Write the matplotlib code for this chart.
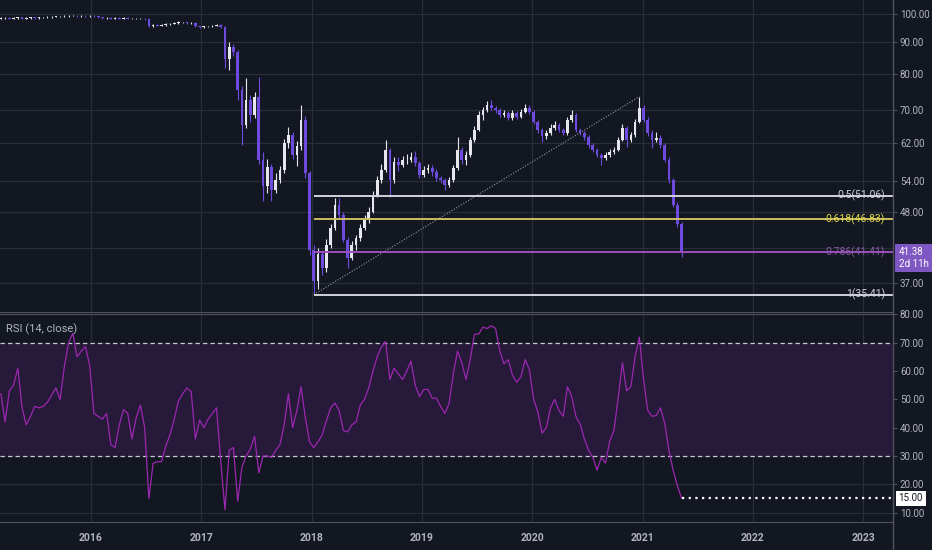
import numpy as np
import pandas as pd
import matplotlib
matplotlib.use('Agg')
import matplotlib.pyplot as plt
import matplotlib.dates as mdates
import matplotlib.ticker as mticker
import matplotlib.transforms as mtrans
from matplotlib.lines import Line2D

BG = '#131722'
GRID = '#2a2e39'
SPINE = '#50535e'
TEXT = '#b2b5be'
UP = '#e6e6ec'
DOWN = '#6e4bdc'
RSI_COLOR = '#9c27b0'
BAND = '#26193a'
FONT = ['Roboto', 'DejaVu Sans']

plt.rcParams['font.family'] = FONT

# biweekly candles
start = '2015-03-09'
first_open = 98.3
closes = [
    98.4, 98.5, 98.3, 98.5, 98.7, 98.3, 98.5, 98.7, 98.5, 98.7, 98.7, 98.9, 98.9,
    99.1, 99.1, 99.3, 99.3, 99.4, 99.3, 99.4, 99.3, 99.3, 99.1, 98.7, 98.5, 98.5,
    98.3, 98.5, 98.3, 98.5, 98.3, 98.3, 98.3, 98.3, 98.2, 95.7, 96.0, 95.8, 96.0,
    96.4, 96.4, 96.7, 96.9, 96.9, 96.7, 96.7, 95.5, 95.3, 95.5, 95.5, 95.8, 96.0,
    95.3, 84.5, 88.5, 86.9, 75.5, 66.3, 72.8, 68.8, 73.5, 58.3, 52.9, 56.8, 52.2,
    54.1, 56.2, 62.1, 63.9, 59.4, 61.3, 67.6, 55.5, 41.8, 37.2, 41.1, 39.0, 42.6,
    45.3, 49.4, 47.6, 43.4, 40.6, 42.6, 43.6, 45.3, 46.7, 48.1, 51.2, 54.1, 56.2,
    60.5, 54.1, 57.9, 57.2, 58.3, 58.3, 58.9, 57.6, 55.2, 56.2, 56.6, 55.8, 54.5,
    54.1, 53.2, 54.1, 56.6, 60.5, 58.3, 59.4, 62.8, 65.1, 68.8, 70.1, 71.4, 70.6,
    70.1, 68.8, 69.3, 68.0, 69.3, 68.4, 69.7, 70.6, 69.7, 67.1, 65.1, 63.7, 64.3,
    65.6, 66.3, 65.1, 64.3, 67.6, 68.8, 65.1, 64.3, 63.4, 61.6, 60.5, 59.4, 58.7,
    59.4, 60.0, 60.5, 62.8, 65.6, 62.8, 63.9, 67.1, 70.6, 67.6, 64.3, 62.8, 63.2,
    61.6, 58.3, 54.1, 49.4, 45.9, 41.38]
highs = [
    98.7, 98.8, 98.7, 98.8, 99.0, 98.9, 98.8, 99.0, 98.9, 99.0, 99.0, 99.2, 99.2,
    99.4, 99.4, 99.6, 99.6, 99.8, 99.7, 99.8, 99.7, 99.6, 99.5, 99.3, 98.9, 98.8,
    98.7, 98.8, 98.7, 98.8, 98.7, 98.6, 98.6, 98.6, 98.6, 98.4, 96.3, 96.2, 96.3,
    96.7, 96.7, 97.0, 97.3, 97.2, 97.1, 97.0, 96.9, 95.7, 95.8, 95.8, 96.1, 96.4,
    96.3, 95.5, 90.0, 89.5, 87.5, 76.5, 78.9, 74.0, 74.9, 79.2, 60.0, 58.5, 57.5,
    55.5, 57.0, 63.0, 65.8, 64.5, 62.5, 71.4, 68.5, 56.0, 42.5, 42.0, 41.8, 43.5,
    46.0, 50.6, 50.6, 48.0, 43.8, 43.2, 44.2, 46.0, 47.5, 49.0, 52.0, 55.0, 57.5,
    62.8, 61.0, 58.8, 59.0, 59.2, 59.5, 60.0, 60.3, 58.0, 57.0, 57.5, 57.2, 56.3,
    55.0, 54.6, 54.8, 57.2, 63.4, 61.2, 60.2, 63.5, 66.0, 69.8, 71.0, 72.5, 72.8,
    71.2, 70.6, 70.0, 69.8, 70.0, 69.9, 70.4, 71.6, 71.4, 70.2, 67.6, 65.6, 65.0,
    66.5, 67.2, 66.8, 65.6, 68.3, 70.1, 69.4, 65.6, 64.8, 63.8, 62.0, 60.9, 59.8,
    60.0, 60.6, 61.2, 63.4, 66.6, 66.0, 64.6, 67.8, 73.64, 71.4, 68.2, 65.0, 64.6,
    63.8, 62.0, 58.8, 54.6, 49.8, 46.3]
lows = [
    98.1, 98.2, 98.0, 98.1, 98.3, 98.0, 98.1, 98.3, 98.2, 98.3, 98.4, 98.5, 98.6,
    98.7, 98.8, 98.9, 99.0, 99.1, 99.0, 99.0, 99.0, 99.0, 98.8, 98.4, 98.2, 98.2,
    98.0, 98.1, 98.0, 98.1, 98.0, 98.0, 98.0, 98.0, 97.9, 95.3, 95.4, 95.5, 95.5,
    95.8, 96.1, 96.2, 96.5, 96.6, 96.4, 96.4, 95.2, 95.0, 95.1, 95.2, 95.3, 95.6,
    94.8, 82.0, 81.3, 85.5, 72.8, 61.6, 65.5, 67.0, 68.0, 57.5, 50.0, 51.5, 50.0,
    51.5, 53.5, 55.5, 61.0, 58.5, 57.0, 60.5, 54.5, 41.0, 35.41, 36.1, 38.0, 38.5,
    42.0, 45.0, 47.0, 43.0, 39.0, 40.2, 41.8, 43.2, 45.0, 46.2, 47.8, 50.8, 53.5,
    55.8, 50.8, 53.5, 56.0, 56.8, 57.3, 57.8, 57.0, 54.6, 54.8, 55.6, 55.0, 54.0,
    53.5, 52.2, 52.8, 53.8, 56.2, 57.5, 57.2, 59.0, 62.3, 64.8, 67.5, 69.6, 70.0,
    69.4, 68.2, 68.3, 67.5, 67.6, 67.8, 68.0, 69.3, 69.0, 66.5, 64.3, 62.3, 63.0,
    63.8, 65.0, 64.5, 63.8, 63.8, 67.0, 64.6, 63.8, 62.8, 61.0, 60.0, 58.8, 57.2,
    58.2, 59.0, 59.6, 60.2, 62.4, 61.2, 62.2, 63.5, 66.8, 67.0, 63.6, 60.8, 62.2,
    61.0, 57.8, 53.6, 49.0, 45.4, 40.7]
rsi = [
    52, 42, 53, 55, 61, 47, 41, 44, 47.5, 47, 47.5, 49, 51.5,
    54, 50, 61.5, 70, 73.3, 65, 67, 68.6, 62, 45, 44, 43, 45,
    34, 33, 41, 46.4, 45, 36, 43.5, 48, 40, 15, 27.4, 28, 28,
    33.5, 37.5, 43, 49.5, 52, 54, 52.7, 36, 42.7, 40, 43, 45, 47,
    28, 11, 32, 33, 14, 26, 30, 32.5, 37, 24, 30, 30, 29.5,
    32, 34, 41, 52, 40, 46, 54.5, 43.5, 35, 33, 35, 37.5, 42.5,
    47, 48.7, 46, 39, 38.5, 41, 42, 48, 50, 54, 60, 65, 68.5,
    70.4, 57, 61, 59, 57, 60, 63.5, 55, 51, 53.5, 53.5, 50.4, 50.4,
    47.5, 45, 48.5, 59, 67, 63, 57, 64, 73, 73, 75.5, 75, 76,
    75, 67, 62.5, 64, 58.5, 56, 58, 64, 60.5, 50, 45.5, 38, 40,
    47, 50, 46, 44, 54.5, 51, 44, 41.3, 36, 32, 29.5, 25, 29.5,
    27.5, 35.3, 39, 50.5, 63, 53, 54.5, 65, 72, 57, 46, 44, 44.3,
    47, 41.5, 32, 25, 19.5, 15.0]

price_ticks = [37, 48, 54, 62, 70, 80, 90, 100]
hidden_price_grid = [42]  # its label sits under the last-price tag
rsi_ticks = [10, 20, 30, 40, 50, 60, 70, 80]
x_range = ('2015-03-06', '2023-04-10')

# fibonacci retracement drawn from the swing low to the swing high
swing_low_idx = 74
swing_high_idx = 151
fib_ratios = ['0.5', '0.618', '0.786', '1']
fib_prices = [51.06, 46.83, 41.41, 35.41]
fib_colors = ['#d1d4dc', '#c9bd62', '#9c4fbe', '#d1d4dc']
fib_text_colors = ['#d1d4dc', '#e0d84a', '#8e5aa8', '#d1d4dc']
countdown = '2d 11h'


def draw_candles(ax, dates):
    opens = np.array([first_open] + closes[:-1])
    c = np.array(closes)
    up = c >= opens
    colors = np.where(up, UP, DOWN)
    ax.vlines(dates, lows, highs, colors=colors, lw=0.8, zorder=3)
    bottom = np.minimum(opens, c)
    height = np.abs(c - opens)
    ax.bar(dates, height, bottom=bottom, width=9, color=colors,
           linewidth=0, zorder=3)


def draw_fib(ax, dates, xmax):
    x0 = dates[swing_low_idx]
    x1 = dates[swing_high_idx]
    ax.plot([x0, x1], [lows[swing_low_idx], highs[swing_high_idx]],
            ls=(0, (1, 1.5)), color='#9598a1', lw=0.8, zorder=4)
    trans = mtrans.blended_transform_factory(ax.transAxes, ax.transData)
    for r, p, col, tcol in zip(fib_ratios, fib_prices, fib_colors,
                               fib_text_colors):
        ax.hlines(p, x0, xmax, colors=col, lw=1.4, zorder=4)
        ax.text(0.991, p, f'{r}({p:.2f})', transform=trans, ha='right',
                va='center', color=tcol, fontsize=7.5, zorder=5)


def style_axes(ax):
    ax.set_facecolor(BG)
    ax.set_axisbelow(True)
    ax.grid(True, color=GRID, lw=0.9)
    for side in ['left', 'top', 'bottom', 'right']:
        ax.spines[side].set_visible(False)
    ax.yaxis.tick_right()
    ax.tick_params(axis='y', colors=SPINE, labelcolor=TEXT, labelsize=7,
                   length=3, pad=2)
    ax.xaxis.set_major_locator(mdates.YearLocator())


dates = mdates.date2num(pd.date_range(start, periods=len(closes), freq='14D'))
xmin, xmax = mdates.datestr2num(x_range[0]), mdates.datestr2num(x_range[1])

fig = plt.figure(figsize=(9.32, 5.5), dpi=100, facecolor=BG)
ax = fig.add_axes((0, 238 / 550, 893 / 932, 312 / 550))
ax2 = fig.add_axes((0, 28 / 550, 893 / 932, 208.5 / 550))

# price pane
style_axes(ax)
ax.set_yscale('log')
ax.yaxis.set_major_locator(mticker.FixedLocator(price_ticks))
ax.yaxis.set_minor_locator(mticker.NullLocator())
ax.yaxis.set_major_formatter(mticker.FormatStrFormatter('%.2f'))
for p in hidden_price_grid:
    ax.axhline(p, color=GRID, lw=0.9, zorder=0)
ax.set_ylim(33.2, 105.3)
ax.set_xlim(xmin, xmax)
ax.tick_params(axis='x', labelbottom=False, length=0)
ax.spines['bottom'].set_visible(True)
ax.spines['bottom'].set_color(SPINE)

draw_candles(ax, dates)
draw_fib(ax, dates, xmax)

ax.annotate(f'{closes[-1]:.2f}\n{countdown}', xy=(1.0, closes[-1]),
            xycoords=('axes fraction', 'data'), xytext=(4, 4),
            textcoords='offset points', ha='left', va='top', color='white',
            fontsize=7, linespacing=1.25, annotation_clip=False, zorder=6,
            bbox=dict(boxstyle='square,pad=0.35', fc='#7e57c2', ec='none'))

# RSI pane
style_axes(ax2)
ax2.yaxis.set_major_locator(mticker.FixedLocator(rsi_ticks))
ax2.yaxis.set_major_formatter(mticker.FormatStrFormatter('%.2f'))
ax2.set_ylim(6.7, 80.3)
ax2.set_xlim(xmin, xmax)
ax2.xaxis.set_major_formatter(mdates.DateFormatter('%Y'))
ax2.tick_params(axis='x', colors=TEXT, labelsize=7.5, length=0, pad=8)
for lbl in ax2.get_xticklabels():
    lbl.set_fontweight('bold')
for side in ['top', 'bottom']:
    ax2.spines[side].set_visible(True)
    ax2.spines[side].set_color(SPINE)

ax2.axhspan(30, 70, color=BAND, zorder=1)
for level in (70, 30):
    ax2.axhline(level, color='#c8cad2', lw=0.9, ls=(0, (3.5, 2.5)), zorder=2)
ax2.plot(dates, rsi, color=RSI_COLOR, lw=0.9, zorder=3)
ax2.hlines(rsi[-1], dates[-1], xmax, colors='white', lw=1.6,
           linestyles=(0, (1, 2)), zorder=3)
ax2.annotate(f'{rsi[-1]:.2f}', xy=(1.0, rsi[-1]),
             xycoords=('axes fraction', 'data'), xytext=(4, 0),
             textcoords='offset points', ha='left', va='center', color=BG,
             fontsize=7, annotation_clip=False, zorder=6,
             bbox=dict(boxstyle='square,pad=0.3', fc='white', ec='none'))
ax2.text(0.007, 0.926, 'RSI (14, close)', transform=ax2.transAxes,
         color=TEXT, fontsize=8, va='center', ha='left')

# price scale border running the full height
fig.add_artist(Line2D([893 / 932] * 2, [0, 1], transform=fig.transFigure,
                      color=SPINE, lw=1))

fig.savefig('out.png', dpi=100, facecolor=BG)
